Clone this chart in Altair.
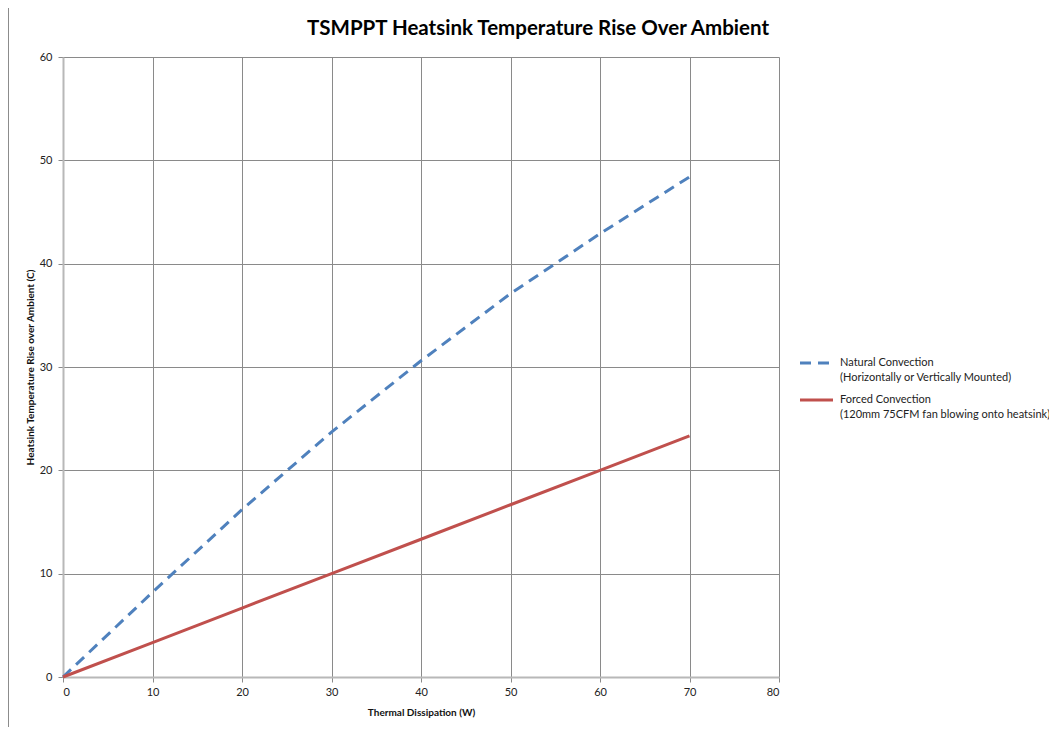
import altair as alt
import pandas as pd

# Data
x_watts = [0, 10, 20, 30, 40, 50, 60, 70]
natural = [0, 8.2, 16.2, 23.7, 30.6, 37.1, 42.9, 48.4]
forced = [0, 3.33, 6.67, 10.0, 13.33, 16.67, 20.0, 23.33]
series_names = ["Natural Convection", "Forced Convection"]
series_labels = [
    "Natural Convection\n(Horizontally or Vertically Mounted)",
    "Forced Convection\n(120mm 75CFM fan blowing onto heatsink)",
]
series_colors = ["#4F81BD", "#C0504D"]
x_ticks = [0, 10, 20, 30, 40, 50, 60, 70, 80]
y_ticks = [0, 10, 20, 30, 40, 50, 60]
title_text = "TSMPPT Heatsink Temperature Rise Over Ambient"

FONT = "Lato"

rows = []
for i, xv in enumerate(x_watts):
    rows.append({"W": xv, "T": natural[i], "series": series_names[0]})
    rows.append({"W": xv, "T": forced[i], "series": series_names[1]})
df = pd.DataFrame(rows)

legend_df = pd.DataFrame({
    "series": series_names,
    "label": series_labels,
    "row": [0, 1],
})

W, H = 716, 620

xscale = alt.Scale(domain=[0, 80], nice=False, zero=True)
yscale = alt.Scale(domain=[0, 60], nice=False, zero=True)
cscale = alt.Scale(domain=series_names, range=series_colors)

x_axis = alt.Axis(
    values=x_ticks, title="Thermal Dissipation  (W)", grid=True,
    gridColor="#8a8a8a", gridWidth=1, domainColor="#b8b8b8", domainWidth=2,
    tickColor="#8a8a8a", tickSize=5, labelPadding=4, labelFontSize=11,
    labelFont=FONT, labelColor="#222222", titleFont=FONT, titleFontSize=10,
    titleFontWeight="bold", titleColor="#111111", titlePadding=10,
)
y_axis = alt.Axis(
    values=y_ticks, title="Heatsink Temperature Rise over Ambient (C)", grid=True,
    gridColor="#8a8a8a", gridWidth=1, domainColor="#b8b8b8", domainWidth=2,
    tickColor="#8a8a8a", tickSize=5, labelPadding=6, labelFontSize=11,
    labelFont=FONT, labelColor="#222222", titleFont=FONT, titleFontSize=10,
    titleFontWeight="bold", titleColor="#111111", titlePadding=4,
)

base = alt.Chart(df)

natural_line = base.transform_filter(alt.datum.series == series_names[0]).mark_line(
    strokeWidth=3, strokeDash=[11, 7]
).encode(
    x=alt.X("W:Q", scale=xscale, axis=x_axis),
    y=alt.Y("T:Q", scale=yscale, axis=y_axis),
    color=alt.Color("series:N", scale=cscale, legend=None),
)

forced_line = base.transform_filter(alt.datum.series == series_names[1]).mark_line(
    strokeWidth=3
).encode(
    x=alt.X("W:Q", scale=xscale),
    y=alt.Y("T:Q", scale=yscale),
    color=alt.Color("series:N", scale=cscale, legend=None),
)

# Manual legend (two-line labels)
leg = alt.Chart(legend_df)
leg_nat = leg.transform_filter(alt.datum.row == 0).mark_rule(strokeWidth=3, strokeDash=[11, 7]).encode(
    x=alt.value(737), x2=alt.value(770), y=alt.value(306),
    color=alt.Color("series:N", scale=cscale, legend=None),
)
leg_for = leg.transform_filter(alt.datum.row == 1).mark_rule(strokeWidth=3).encode(
    x=alt.value(737), x2=alt.value(770), y=alt.value(343),
    color=alt.Color("series:N", scale=cscale, legend=None),
)
leg_text_nat = leg.transform_filter(alt.datum.row == 0).mark_text(
    align="left", baseline="top", font=FONT, fontSize=11, lineBreak="\n",
    lineHeight=15, color="#222222",
).encode(x=alt.value(777), y=alt.value(300), text="label:N")
leg_text_for = leg.transform_filter(alt.datum.row == 1).mark_text(
    align="left", baseline="top", font=FONT, fontSize=11, lineBreak="\n",
    lineHeight=15, color="#222222",
).encode(x=alt.value(777), y=alt.value(337), text="label:N")

one = pd.DataFrame({"t": [title_text]})
title_mark = alt.Chart(one).mark_text(
    align="center", baseline="middle", font=FONT, fontSize=20.5, fontWeight="bold",
    color="#000000",
).encode(x=alt.value(475), y=alt.value(-28), text="t:N")

# Outer chart frame
frame = alt.Chart(one).mark_rule(color="#8c8c8c", strokeWidth=1).encode(
    x=alt.value(-54.5), x2=alt.value(1000), y=alt.value(-56.5)
)
frame_left = alt.Chart(one).mark_rule(color="#8c8c8c", strokeWidth=1).encode(
    x=alt.value(-54.5), y=alt.value(-56.5), y2=alt.value(700)
)

chart = alt.layer(
    frame, frame_left, natural_line, forced_line, leg_nat, leg_for,
    leg_text_nat, leg_text_for, title_mark,
).properties(
    width=W, height=H,
    autosize=alt.AutoSizeParams(type="none"),
    padding={"left": 55, "top": 49, "right": 270, "bottom": 50},
).configure_view(stroke=None).configure(background="white")

chart.save("out.html", embed_options={"renderer": "svg", "actions": False})
